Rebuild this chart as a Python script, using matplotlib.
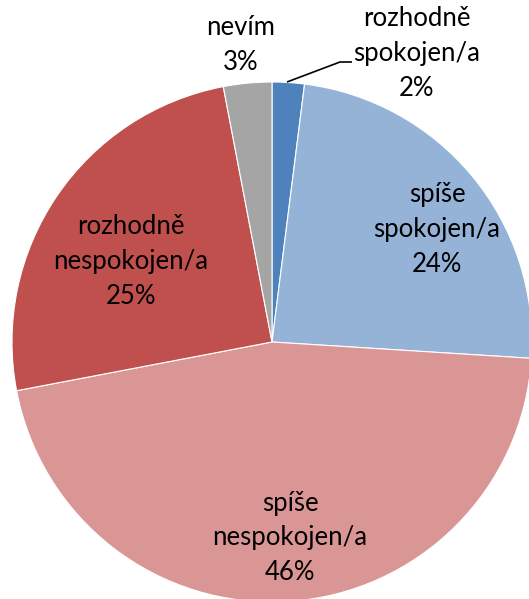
import matplotlib
matplotlib.use("Agg")
import matplotlib.pyplot as plt

categories = ["rozhodně\nspokojen/a", "spíše\nspokojen/a", "spíše\nnespokojen/a",
              "rozhodně\nnespokojen/a", "nevím"]
values = [2, 24, 46, 25, 3]
colors = ["#4F81BD", "#95B3D7", "#D99694", "#C0504D", "#A5A5A5"]

W, H = 529, 599
CX, CY, R = 272, 342, 260

fig = plt.figure(figsize=(W / 100, H / 100), dpi=100)
ax = fig.add_axes([0, 0, 1, 1])
wedges, _ = ax.pie(values, colors=colors, startangle=90, counterclock=False,
                   wedgeprops=dict(edgecolor="white", linewidth=0.8))
ax.set_xlim(-CX / R, (W - CX) / R)
ax.set_ylim(-(H - CY) / R, CY / R)
ax.set_aspect("auto")
ax.axis("off")

def px(x, y):
    return ((x - CX) / R, (CY - y) / R)

label_pos = [(417, 53), (437, 230), (290, 538), (131, 262), (241, 45)]
font = dict(family=["Lato", "DejaVu Sans"], fontsize=18.5, color="black",
            ha="center", va="center", linespacing=1.5)
for cat, v, (x, y) in zip(categories, values, label_pos):
    ax.text(*px(x, y), f"{cat}\n{v}%", **font)

# leader line for the small slice
lx = [px(287, 82), px(340, 62), px(352, 62)]
ax.plot([p[0] for p in lx], [p[1] for p in lx], color="black", lw=1.2,
        solid_capstyle="butt")

fig.savefig("out.png", dpi=100)
